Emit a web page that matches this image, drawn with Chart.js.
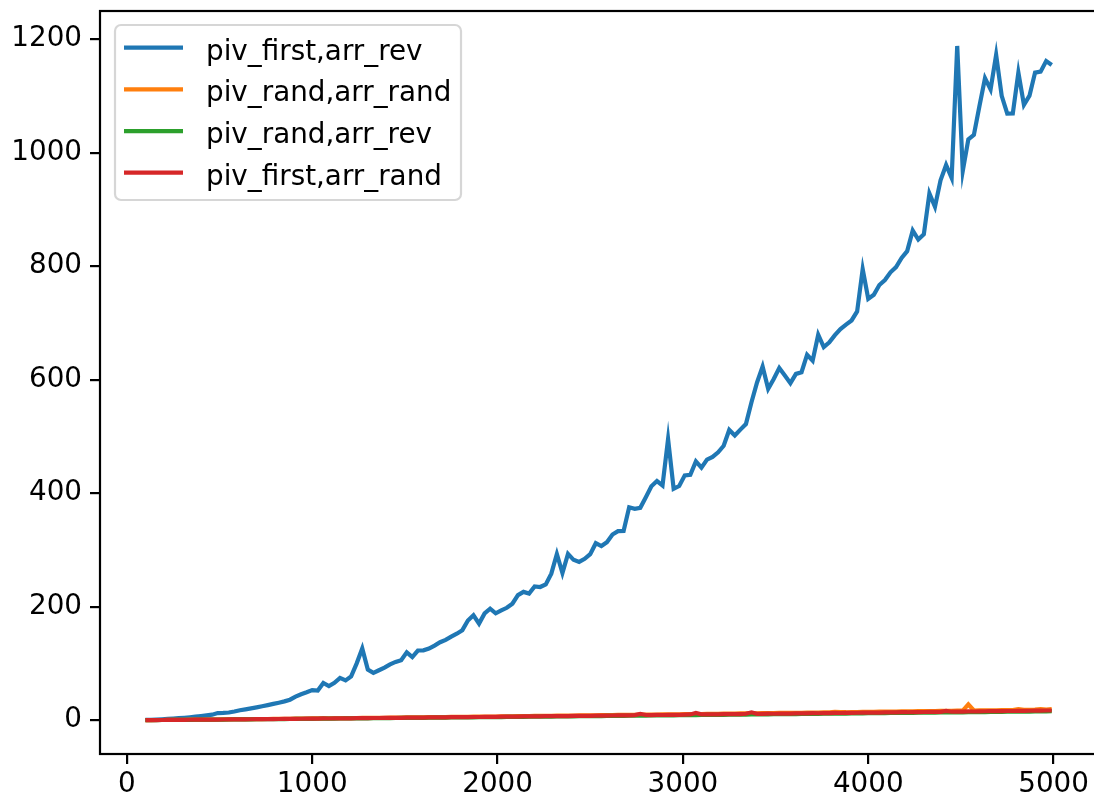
<!DOCTYPE html>
<html>
<head>
<meta charset="utf-8">
<script src="https://cdn.jsdelivr.net/npm/chart.js@4.4.1/dist/chart.umd.min.js"></script>
<style>
  html, body { margin: 0; padding: 0; background: #fff; overflow: hidden; width: 1094px; height: 802px; }
  #wrap { width: 1104px; height: 802px; }
</style>
</head>
<body>
<div id="wrap"><canvas id="chart" width="1104" height="802"></canvas></div>
<script>
// array sizes on the x axis
const sizes = [
  100, 130, 160, 190, 220, 250, 280, 310, 340, 370,
  400, 430, 460, 490, 520, 550, 580, 610, 640, 670,
  700, 730, 760, 790, 820, 850, 880, 910, 940, 970,
  1000, 1030, 1060, 1090, 1120, 1150, 1180, 1210, 1240, 1270,
  1300, 1330, 1360, 1390, 1420, 1450, 1480, 1510, 1540, 1570,
  1600, 1630, 1660, 1690, 1720, 1750, 1780, 1810, 1840, 1870,
  1900, 1930, 1960, 1990, 2020, 2050, 2080, 2110, 2140, 2170,
  2200, 2230, 2260, 2290, 2320, 2350, 2380, 2410, 2440, 2470,
  2500, 2530, 2560, 2590, 2620, 2650, 2680, 2710, 2740, 2770,
  2800, 2830, 2860, 2890, 2920, 2950, 2980, 3010, 3040, 3070,
  3100, 3130, 3160, 3190, 3220, 3250, 3280, 3310, 3340, 3370,
  3400, 3430, 3460, 3490, 3520, 3550, 3580, 3610, 3640, 3670,
  3700, 3730, 3760, 3790, 3820, 3850, 3880, 3910, 3940, 3970,
  4000, 4030, 4060, 4090, 4120, 4150, 4180, 4210, 4240, 4270,
  4300, 4330, 4360, 4390, 4420, 4450, 4480, 4510, 4540, 4570,
  4600, 4630, 4660, 4690, 4720, 4750, 4780, 4810, 4840, 4870,
  4900, 4930, 4960, 4990
];

const pivFirstArrRev = [
  0.5, 0.8, 1.2, 1.7, 2.3, 2.9, 3.6, 4.4, 5.3, 6.3,
  7.4, 8.5, 9.8, 12.6, 12.8, 13.6, 15.4, 17.6, 19.2, 20.8,
  22.6, 24.6, 26.7, 28.8, 30.9, 33.2, 36.2, 41.5, 45.8, 49.2,
  53.0, 52.4, 65.6, 60.2, 65.8, 74.6, 70.1, 77.3, 100.2, 126.4,
  89.1, 83.5, 88.0, 92.6, 98.3, 102.7, 105.8, 119.6, 111.2, 122.8,
  123.1, 126.2, 131.5, 137.4, 141.6, 147.3, 152.4, 158.7, 175.6, 184.8,
  170.2, 188.1, 196.4, 188.3, 193.4, 198.1, 205.3, 220.4, 226.1, 223.2,
  235.8, 234.7, 239.3, 258.2, 292.8, 259.4, 293.1, 282.6, 278.9, 284.3,
  292.7, 311.9, 306.8, 313.7, 327.2, 333.1, 333.6, 375.2, 372.4, 374.3,
  393.0, 412.1, 421.3, 413.6, 495.5, 407.8, 412.6, 431.4, 432.5, 456.1,
  444.9, 459.2, 463.8, 472.0, 483.5, 511.4, 501.6, 512.0, 521.8, 560.3,
  595.1, 623.0, 583.9, 601.2, 620.5, 607.3, 593.8, 610.2, 613.1, 644.0,
  633.6, 679.2, 657.4, 665.8, 678.5, 689.2, 697.1, 704.3, 720.2, 794.8,
  742.3, 749.5, 766.8, 775.5, 789.1, 798.4, 814.6, 826.4, 862.8, 846.9,
  856.2, 928.1, 904.6, 951.2, 978.3, 955.4, 1187.9, 967.8, 1023.4, 1031.2,
  1082.1, 1131.3, 1111.5, 1172.2, 1100.1, 1068.8, 1068.9, 1141.2, 1084.1, 1100.3,
  1141.0, 1142.6, 1161.2, 1154.3
];

const pivRandArrRand = [
  0.2, 0.3, 0.4, 0.4, 0.5, 0.6, 0.7, 0.8, 0.9, 1.0,
  1.1, 1.2, 1.2, 1.3, 1.4, 1.5, 1.7, 1.7, 1.8, 1.9,
  2.0, 2.1, 2.2, 2.3, 2.4, 2.5, 2.6, 2.8, 2.9, 3.0,
  3.1, 3.2, 3.3, 3.4, 3.5, 3.5, 3.6, 3.8, 3.9, 4.0,
  4.1, 4.2, 4.3, 4.4, 4.5, 4.6, 4.8, 4.9, 5.0, 5.1,
  5.2, 5.3, 5.4, 5.5, 5.6, 5.8, 5.9, 6.0, 6.1, 6.2,
  6.3, 6.4, 6.5, 6.6, 6.8, 6.9, 7.0, 7.2, 7.3, 7.4,
  7.5, 7.6, 7.7, 7.9, 8.0, 8.1, 8.2, 8.3, 8.4, 8.5,
  8.7, 8.8, 8.9, 9.0, 9.1, 9.3, 9.4, 9.5, 9.6, 9.7,
  9.8, 10.0, 10.1, 10.2, 10.3, 10.4, 10.5, 10.7, 10.8, 10.9,
  11.0, 11.2, 11.3, 11.4, 11.5, 11.7, 11.8, 11.9, 12.0, 12.1,
  12.3, 12.4, 12.5, 12.6, 12.8, 12.9, 13.0, 13.1, 13.2, 13.4,
  13.5, 13.6, 13.8, 13.9, 14.8, 14.2, 14.1, 14.4, 14.5, 14.6,
  14.8, 14.9, 15.0, 15.1, 15.3, 15.4, 15.5, 15.6, 15.8, 15.9,
  16.0, 16.1, 16.3, 16.4, 16.5, 16.6, 16.8, 16.9, 28.0, 17.1,
  17.3, 17.4, 17.5, 17.6, 17.8, 17.9, 18.0, 19.4, 18.3, 18.4,
  18.6, 19.8, 18.8, 19.6
];

const pivRandArrRev = [
  0.2, 0.2, 0.3, 0.4, 0.4, 0.5, 0.6, 0.7, 0.7, 0.8,
  0.9, 1.0, 1.0, 1.1, 1.2, 1.3, 1.4, 1.4, 1.5, 1.6,
  1.7, 1.8, 1.8, 1.9, 2.0, 2.1, 2.2, 2.3, 2.4, 2.5,
  2.5, 2.6, 2.7, 2.8, 2.9, 3.0, 3.1, 3.2, 3.2, 3.3,
  3.4, 3.5, 3.6, 3.7, 3.8, 3.9, 4.0, 4.1, 4.1, 4.2,
  4.3, 4.4, 4.5, 4.6, 4.7, 4.8, 4.9, 5.0, 5.1, 5.2,
  5.3, 5.3, 5.5, 5.5, 5.6, 5.8, 5.9, 6.0, 6.0, 6.1,
  6.2, 6.3, 6.4, 6.5, 6.6, 6.7, 6.8, 6.9, 7.0, 7.1,
  7.2, 7.3, 7.4, 7.5, 7.6, 7.7, 7.8, 7.9, 8.0, 8.1,
  8.2, 8.3, 8.4, 8.5, 8.6, 8.7, 8.8, 8.9, 9.0, 9.1,
  9.2, 9.3, 9.4, 9.5, 9.6, 9.7, 9.8, 9.9, 10.0, 10.1,
  10.2, 10.3, 10.4, 10.5, 10.6, 10.7, 10.8, 10.9, 11.0, 11.1,
  11.2, 11.3, 11.4, 11.5, 11.6, 11.7, 11.8, 12.0, 12.1, 12.2,
  12.3, 12.4, 12.5, 12.6, 12.7, 12.8, 12.9, 13.0, 13.1, 13.2,
  13.3, 13.4, 13.5, 13.6, 13.7, 13.8, 13.9, 14.0, 14.1, 14.2,
  14.3, 14.4, 14.6, 14.7, 14.8, 14.9, 15.0, 15.1, 15.2, 15.3,
  15.4, 15.5, 15.6, 15.8
];

const pivFirstArrRand = [
  0.2, 0.3, 0.3, 0.4, 0.5, 0.5, 0.6, 0.7, 0.8, 0.9,
  1.0, 1.1, 1.1, 1.2, 1.3, 1.4, 1.5, 1.6, 1.6, 1.7,
  1.8, 2.0, 2.0, 2.1, 2.2, 2.3, 2.5, 2.5, 2.6, 2.8,
  2.8, 2.9, 3.1, 3.0, 3.2, 3.3, 3.3, 3.4, 3.6, 3.6,
  3.7, 3.9, 3.9, 4.0, 4.2, 4.2, 4.3, 4.5, 4.5, 4.7,
  4.7, 4.9, 4.9, 5.1, 5.1, 5.3, 5.4, 5.4, 5.6, 5.7,
  5.7, 5.9, 6.0, 6.0, 6.2, 6.3, 6.5, 6.5, 6.7, 6.7,
  6.9, 6.9, 7.1, 7.2, 7.2, 7.4, 7.4, 7.6, 7.6, 7.8,
  7.8, 8.0, 8.1, 8.1, 8.3, 8.4, 8.6, 8.6, 8.9, 11.0,
  9.2, 9.1, 9.3, 9.2, 9.5, 9.4, 9.6, 9.8, 10.2, 12.8,
  10.3, 10.2, 10.5, 10.3, 10.6, 10.6, 10.9, 10.8, 11.4, 13.9,
  11.3, 11.3, 11.5, 11.4, 11.6, 11.8, 11.8, 11.9, 12.1, 12.2,
  12.4, 12.3, 12.6, 12.5, 12.8, 12.7, 13.0, 13.1, 13.2, 13.3,
  13.4, 13.6, 13.5, 13.8, 13.7, 14.0, 14.1, 14.1, 14.4, 14.3,
  14.5, 14.6, 14.8, 14.8, 16.3, 15.0, 15.3, 15.2, 15.5, 15.4,
  15.7, 15.8, 15.9, 16.1, 16.0, 16.3, 16.3, 16.6, 16.5, 16.7,
  16.8, 16.9, 17.1, 17.1
];

const xTicks = [0, 1000, 2000, 3000, 4000, 5000];
const yTicks = [0, 200, 400, 600, 800, 1000, 1200];

const seriesNames = ['piv_first,arr_rev', 'piv_rand,arr_rand', 'piv_rand,arr_rev', 'piv_first,arr_rand'];
const seriesColors = ['#1f77b4', '#ff7f0e', '#2ca02c', '#d62728'];
const seriesValues = [pivFirstArrRev, pivRandArrRand, pivRandArrRev, pivFirstArrRand];

const FONT = { family: '"DejaVu Sans", sans-serif', size: 27.8 };

// axes frame (matplotlib-like spines)
const frame = {
  id: 'frame',
  afterDatasetsDraw(chart) {
    const a = chart.chartArea, ctx = chart.ctx;
    ctx.save();
    ctx.strokeStyle = '#000';
    ctx.lineWidth = 2.2;
    ctx.strokeRect(a.left, a.top, a.right - a.left, a.bottom - a.top);
    ctx.restore();
  }
};

// legend box in the upper left corner
const legendBox = {
  id: 'legendBox',
  afterDraw(chart) {
    const ctx = chart.ctx;
    const x = 115, y = 25, w = 346, h = 175, r = 6;
    ctx.save();
    ctx.beginPath();
    ctx.roundRect(x, y, w, h, r);
    ctx.fillStyle = 'rgba(255,255,255,0.8)';
    ctx.fill();
    ctx.strokeStyle = 'rgba(204,204,204,0.8)';
    ctx.lineWidth = 2.2;
    ctx.stroke();
    ctx.font = `${FONT.size}px ${FONT.family}`;
    ctx.textBaseline = 'alphabetic';
    ctx.fillStyle = '#000';
    chart.data.datasets.forEach((ds, i) => {
      const cy = 47.7 + i * 41.67;
      ctx.strokeStyle = ds.borderColor;
      ctx.lineWidth = 4.2;
      ctx.beginPath();
      ctx.moveTo(124, cy);
      ctx.lineTo(183, cy);
      ctx.stroke();
      ctx.fillText(ds.label, 206, cy + 12);
    });
    ctx.restore();
  }
};

const datasets = seriesNames.map((name, i) => ({
  label: name,
  data: sizes.map((s, j) => ({ x: s, y: seriesValues[i][j] })),
  borderColor: seriesColors[i],
  backgroundColor: seriesColors[i],
  borderWidth: 4.2,
  pointRadius: 0,
  tension: 0,
  fill: false,
  order: 3 - i
}));

const axisStyle = {
  grid: { display: true, drawOnChartArea: false, drawTicks: true, tickLength: 10, tickWidth: 2.2, lineWidth: 2.2, tickColor: '#000', color: '#000' },
  border: { display: false }
};

// no padding for half labels, so the plot area sits where we put it
const noPad = s => { s.paddingTop = 0; s.paddingBottom = 0; s.paddingLeft = 0; s.paddingRight = 0; };

new Chart(document.getElementById('chart').getContext('2d'), {
  type: 'line',
  data: { datasets },
  options: {
    responsive: false,
    animation: false,
    devicePixelRatio: 1,
    layout: { padding: { top: 11, right: 5, left: 0, bottom: 0 } },
    plugins: { legend: { display: false }, tooltip: { enabled: false } },
    scales: {
      x: {
        type: 'linear',
        min: -145,
        max: 5245,
        ...axisStyle,
        ticks: { color: '#000', font: FONT, padding: 4, maxRotation: 0, autoSkip: false, callback: v => String(v) },
        afterBuildTicks: s => { s.ticks = xTicks.map(v => ({ value: v })); },
        afterFit: s => { s.height = 48; noPad(s); }
      },
      y: {
        type: 'linear',
        min: -59.5,
        max: 1249.5,
        ...axisStyle,
        ticks: { color: '#000', font: FONT, padding: 8, autoSkip: false, callback: v => String(v) },
        afterBuildTicks: s => { s.ticks = yTicks.map(v => ({ value: v })); },
        afterFit: s => { s.width = 100; noPad(s); }
      }
    }
  },
  plugins: [frame, legendBox]
});
</script>
</body>
</html>
